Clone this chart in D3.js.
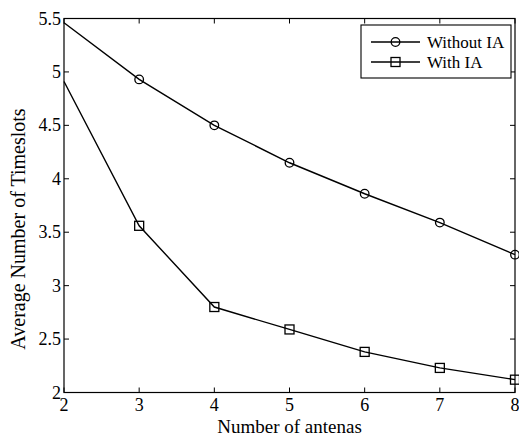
<!DOCTYPE html>
<html>
<head>
<meta charset='utf-8'>
<script src='https://d3js.org/d3.v7.min.js'></script>
<style>
body { margin: 0; background: #fff; }
text { font-family: 'Liberation Serif', 'Times New Roman', serif; fill: #000; }
</style>
</head>
<body>
<div id='chart'></div>
<script>
// data
var antennas = [2, 3, 4, 5, 6, 7, 8];
var withoutIA = [5.46, 4.93, 4.50, 4.15, 3.86, 3.59, 3.29];
var withIA = [4.91, 3.56, 2.80, 2.59, 2.38, 2.23, 2.12];
var xTicks = [2, 3, 4, 5, 6, 7, 8];
var yTicks = [2, 2.5, 3, 3.5, 4, 4.5, 5, 5.5];
var seriesNames = ['Without IA', 'With IA'];

var width = 519, height = 438;
var margin = { left: 64, right: 4, top: 18.5, bottom: 45.5 };

var svg = d3.select('#chart').append('svg')
    .attr('width', width)
    .attr('height', height);

var xScale = d3.scaleLinear().domain([2, 8]).range([margin.left, width - margin.right]);
var yScale = d3.scaleLinear().domain([2, 5.5]).range([height - margin.bottom, margin.top]);

var x0 = xScale(2), x1 = xScale(8), y0 = yScale(2), y1 = yScale(5.5);

// axes box
svg.append('rect')
    .attr('x', x0).attr('y', y1)
    .attr('width', x1 - x0).attr('height', y0 - y1)
    .style('fill', 'none').style('stroke', 'black').style('stroke-width', 1.2);

var tickLen = 5;
var g = svg.append('g');

xTicks.forEach(function(t) {
    g.append('line').attr('x1', xScale(t)).attr('x2', xScale(t))
        .attr('y1', y0).attr('y2', y0 - tickLen).style('stroke', 'black');
    g.append('line').attr('x1', xScale(t)).attr('x2', xScale(t))
        .attr('y1', y1).attr('y2', y1 + tickLen).style('stroke', 'black');
    g.append('text').attr('x', xScale(t)).attr('y', 411)
        .attr('text-anchor', 'middle').style('font-size', '18px').text(t);
});

yTicks.forEach(function(t) {
    g.append('line').attr('x1', x0).attr('x2', x0 + tickLen)
        .attr('y1', yScale(t)).attr('y2', yScale(t)).style('stroke', 'black');
    g.append('line').attr('x1', x1).attr('x2', x1 - tickLen)
        .attr('y1', yScale(t)).attr('y2', yScale(t)).style('stroke', 'black');
    g.append('text').attr('x', 61).attr('y', yScale(t) + 6)
        .attr('text-anchor', 'end').style('font-size', '18px').text(t);
});

svg.append('text')
    .attr('x', (x0 + x1) / 2).attr('y', 433)
    .attr('text-anchor', 'middle').style('font-size', '19px')
    .text('Number of antenas');

svg.append('text')
    .attr('transform', 'translate(25,229) rotate(-90)')
    .attr('text-anchor', 'middle').style('font-size', '20px')
    .text('Average Number of Timeslots');

var line = d3.line()
    .x(function(d, i) { return xScale(antennas[i]); })
    .y(function(d) { return yScale(d); });

[withoutIA, withIA].forEach(function(vals) {
    svg.append('path').datum(vals).attr('d', line)
        .style('fill', 'none').style('stroke', 'black').style('stroke-width', 1.4);
});

function circleMarker(sel, cx, cy) {
    sel.append('circle').attr('cx', cx).attr('cy', cy).attr('r', 4.3)
        .style('fill', 'none').style('stroke', 'black').style('stroke-width', 1.3);
}
function squareMarker(sel, cx, cy) {
    sel.append('rect').attr('x', cx - 4.5).attr('y', cy - 4.5)
        .attr('width', 9).attr('height', 9)
        .style('fill', 'none').style('stroke', 'black').style('stroke-width', 1.3);
}

// markers (none drawn on the first point in the reference)
antennas.forEach(function(a, i) {
    if (i === 0) return;
    circleMarker(svg, xScale(a), yScale(withoutIA[i]));
    squareMarker(svg, xScale(a), yScale(withIA[i]));
});

// legend
var lg = svg.append('g');
lg.append('rect').attr('x', 361).attr('y', 25).attr('width', 150).attr('height', 53)
    .style('fill', 'white').style('stroke', 'black').style('stroke-width', 1.1);
var rows = [42, 62];
rows.forEach(function(ry, i) {
    lg.append('line').attr('x1', 371).attr('x2', 420).attr('y1', ry).attr('y2', ry)
        .style('stroke', 'black').style('stroke-width', 1.4);
    if (i === 0) circleMarker(lg, 395.5, ry); else squareMarker(lg, 395.5, ry);
    lg.append('text').attr('x', 427).attr('y', ry + 6)
        .style('font-size', '17px').text(seriesNames[i]);
});
</script>
</body>
</html>
